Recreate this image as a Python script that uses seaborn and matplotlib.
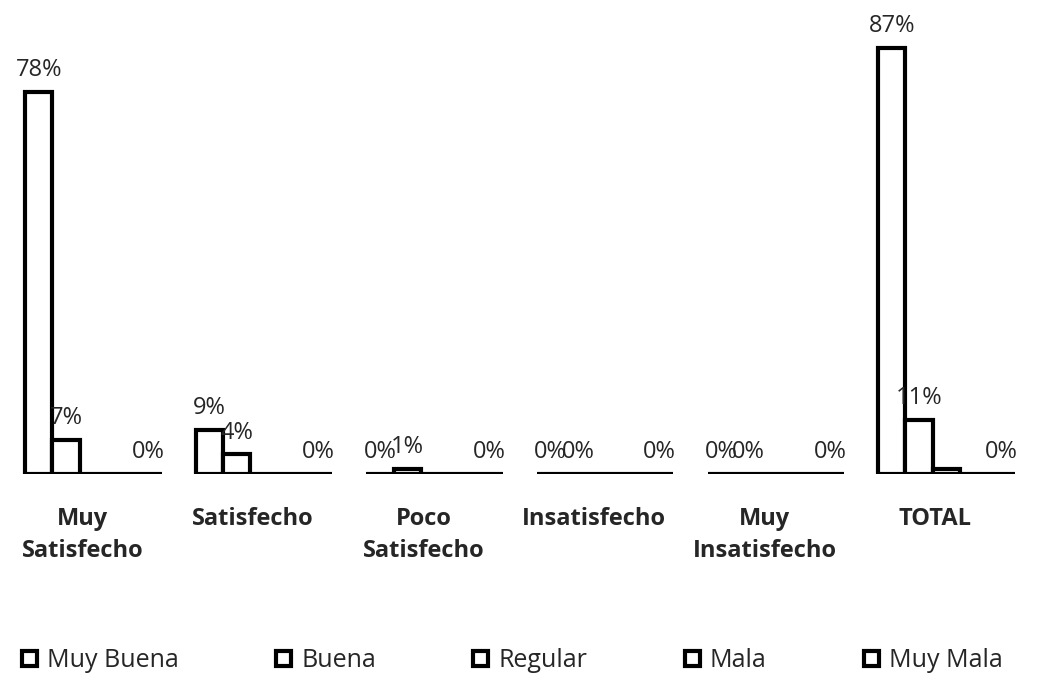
import pandas as pd
import matplotlib.pyplot as plt
import matplotlib.transforms as mtransforms
import seaborn as sns
from matplotlib.patches import Patch

# Categories and series
categorias = ['Muy\nSatisfecho', 'Satisfecho', 'Poco\nSatisfecho',
              'Insatisfecho', 'Muy\nInsatisfecho', 'TOTAL']
series = ['Muy Buena', 'Buena', 'Regular', 'Mala', 'Muy Mala']

muy_buena = [78, 9, 0, 0, 0, 87]
buena = [7, 4, 1, 0, 0, 11]
regular = [0, 0, 0, 0, 0, 1]
mala = [0, 0, 0, 0, 0, 0]
muy_mala = [0, 0, 0, 0, 0, 0]

valores = [muy_buena, buena, regular, mala, muy_mala]

# Long format for seaborn
rows = []
for s, vals in zip(series, valores):
    for c, v in zip(categorias, vals):
        rows.append({'Categoria': c, 'Serie': s, 'Valor': v})
df = pd.DataFrame(rows)

sns.set_style('white')
plt.rcParams['font.family'] = ['Open Sans', 'DejaVu Sans']

fig = plt.figure(figsize=(10.39, 6.77), dpi=100)
ax = fig.add_axes([0.0, 0.30, 1.0, 0.6853])

sns.barplot(data=df, x='Categoria', y='Valor', hue='Serie', order=categorias,
            hue_order=series, palette=['white'] * 5, edgecolor='black',
            linewidth=3, width=0.8, ax=ax, legend=False)

# labels only on the series that show them in the original
for i, cont in enumerate(ax.containers):
    if series[i] in ('Muy Buena', 'Buena', 'Muy Mala'):
        ax.bar_label(cont, labels=[f'{v:.0f}%' for v in valores[i]],
                     fontsize=17, padding=7)

ax.set_ylim(0, 94.7)
ax.set_xlim(-0.547, 5.543)
ax.set_xlabel('')
ax.set_ylabel('')
ax.set_yticks([])
ax.tick_params(axis='x', length=0, pad=24)
shift = mtransforms.ScaledTranslation(-0.11, 0, fig.dpi_scale_trans)
for lbl in ax.get_xticklabels():
    lbl.set_fontweight('bold')
    lbl.set_fontsize(17)
    lbl.set_linespacing(1.45)
    lbl.set_verticalalignment('top')
    lbl.set_transform(lbl.get_transform() + shift)
for sp in ax.spines.values():
    sp.set_visible(False)

handles = [Patch(facecolor='white', edgecolor='black', linewidth=3) for _ in series]
fig.legend(handles, series, loc='center left', ncol=5, frameon=False,
           fontsize=18, bbox_to_anchor=(0.021, 0.024), borderpad=0,
           borderaxespad=0, columnspacing=3.9,
           handlelength=0.6, handleheight=0.6, handletextpad=0.4)

fig.savefig('out.png', dpi=100)
